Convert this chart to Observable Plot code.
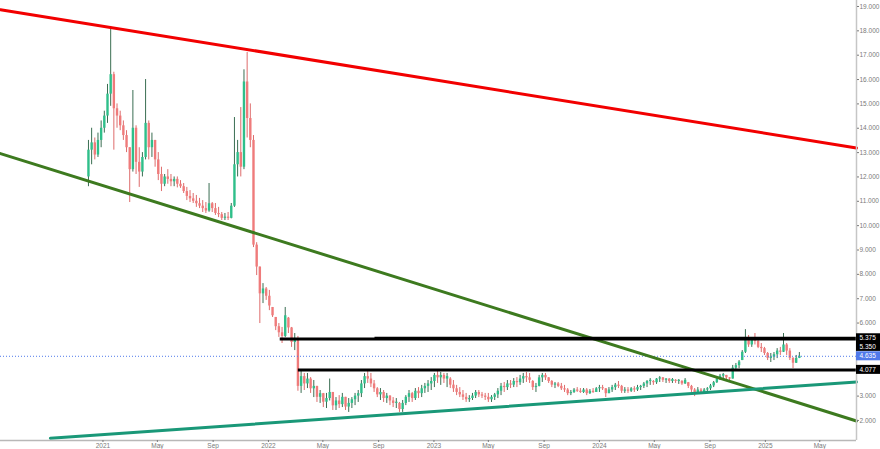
<!DOCTYPE html>
<html>
<head>
<meta charset="utf-8">
<script src="https://cdn.jsdelivr.net/npm/d3@7"></script>
<script src="https://cdn.jsdelivr.net/npm/@observablehq/plot@0.6"></script>
<style>
  html, body { margin: 0; padding: 0; background: #fff; }
  svg { display: block; }
</style>
</head>
<body>
<script>
// ---- weekly OHLC (first week starts 2020-11-30) ----
const openV = [
  12.0,13.1,13.4,12.9,13.5,14.0,14.5,15.4,16.2,14.8,
  14.5,14.1,13.7,13.2,12.3,14.0,12.6,12.2,12.8,14.2,
  13.2,13.5,12.7,12.1,11.7,12.0,11.9,11.8,11.9,11.7,
  11.6,11.4,11.2,11.1,11.0,10.9,10.8,10.7,10.6,10.9,
  10.7,10.5,10.45,10.3,10.35,10.3,10.8,12.5,13.0,12.4,
  15.9,14.4,13.5,9.2,8.3,7.2,7.4,7.1,6.64,6.23,
  5.85,5.6,5.45,6.2,5.8,5.2,5.35,3.4,3.8,3.5,
  3.7,3.3,3.4,2.95,3.1,2.75,2.9,3.15,2.6,2.8,
  2.65,2.95,2.55,2.7,2.85,3.0,3.1,3.5,3.8,3.7,
  3.5,3.3,3.05,3.15,2.9,3.0,2.8,2.7,2.7,2.45,
  2.7,2.95,3.1,2.9,3.2,3.1,3.3,3.4,3.5,3.6,
  3.85,3.75,3.85,3.7,3.7,3.45,3.3,3.15,3.05,2.95,
  2.85,2.9,3.0,3.15,3.05,3.0,2.95,2.85,2.95,3.05,
  3.2,3.4,3.35,3.5,3.45,3.6,3.55,3.7,3.8,3.75,
  3.6,3.35,3.4,3.75,3.85,3.75,3.6,3.45,3.5,3.4,
  3.3,3.25,3.1,3.15,3.25,3.2,3.15,3.25,3.1,3.2,
  3.15,3.3,3.35,3.3,3.1,3.25,3.35,3.45,3.4,3.2,
  3.25,3.2,3.3,3.25,3.35,3.4,3.5,3.6,3.6,3.55,
  3.7,3.75,3.65,3.7,3.6,3.65,3.6,3.6,3.5,3.55,
  3.4,3.25,3.1,3.25,3.15,3.25,3.3,3.42,3.55,3.7,
  3.82,3.85,3.75,3.7,4.15,4.25,4.46,4.8,5.4,5.1,
  5.3,5.25,5.0,4.95,4.75,4.55,4.6,4.7,4.85,4.8,
  5.1,4.85,4.55,4.35,4.55
];
const highV = [
  13.5,14.0,13.6,13.8,14.3,14.7,15.8,18.18,16.3,15.0,
  14.7,14.3,13.9,13.2,15.55,14.1,13.2,13.0,16.0,14.3,
  13.8,13.5,13.0,12.4,12.1,12.3,12.1,12.0,12.0,11.85,
  11.73,11.57,11.44,11.32,11.24,11.12,11.03,10.95,11.73,10.95,
  10.91,10.75,10.54,10.5,10.54,10.91,14.44,13.5,14.85,16.4,
  17.11,15.0,13.7,9.3,8.3,7.62,7.46,7.34,6.64,6.23,
  5.98,5.82,6.64,6.23,5.82,5.57,5.45,4.09,3.93,3.93,
  3.76,3.64,3.4,3.23,3.11,3.11,3.7,3.15,2.94,3.02,
  3.11,2.95,2.9,2.94,3.11,3.23,3.64,3.93,4.07,3.93,
  3.64,3.35,3.31,3.23,3.11,3.02,2.94,2.9,2.74,2.82,
  3.02,3.23,3.15,3.31,3.35,3.44,3.52,3.64,3.76,3.93,
  4.05,3.97,3.93,3.93,3.76,3.64,3.44,3.35,3.23,3.11,
  3.02,3.11,3.23,3.23,3.15,3.11,3.11,3.02,3.11,3.31,
  3.52,3.56,3.64,3.64,3.72,3.76,3.85,3.93,3.97,3.93,
  3.64,3.52,3.85,3.93,3.93,3.76,3.64,3.56,3.56,3.52,
  3.44,3.31,3.23,3.31,3.35,3.31,3.31,3.31,3.27,3.31,
  3.35,3.44,3.44,3.31,3.35,3.44,3.52,3.6,3.44,3.35,
  3.35,3.35,3.39,3.44,3.44,3.56,3.64,3.72,3.64,3.72,
  3.8,3.76,3.72,3.72,3.72,3.68,3.68,3.64,3.72,3.56,
  3.44,3.31,3.35,3.31,3.31,3.35,3.48,3.6,3.76,3.89,
  3.93,3.85,3.76,4.26,4.34,4.46,4.87,5.73,5.49,5.37,
  5.57,5.28,5.16,5.0,4.79,4.75,4.79,4.95,5.0,5.57,
  5.16,4.95,4.58,4.67,4.79
];
const lowV = [
  11.6,12.5,12.7,12.8,13.2,13.8,14.2,14.9,13.1,14.0,
  13.9,13.5,13.0,10.95,12.2,12.1,11.57,12.0,12.7,12.7,
  12.8,12.4,11.85,11.4,11.6,11.7,11.6,11.6,11.55,11.53,
  11.32,11.03,10.95,10.91,10.75,10.7,10.54,10.5,10.55,10.54,
  10.42,10.33,10.21,10.21,10.21,10.28,10.75,12.0,12.0,12.3,
  13.6,13.2,9.1,7.95,5.98,6.8,6.93,6.51,6.23,5.69,
  5.41,5.16,5.4,5.57,5.0,4.87,3.2,3.11,3.23,3.31,
  3.11,2.94,2.74,2.7,2.53,2.49,2.8,2.41,2.41,2.49,
  2.53,2.41,2.33,2.49,2.61,2.74,2.94,3.31,3.52,3.35,
  3.15,2.94,2.82,2.74,2.7,2.61,2.53,2.49,2.33,2.33,
  2.61,2.74,2.74,2.82,2.9,2.94,3.11,3.15,3.23,3.35,
  3.52,3.44,3.52,3.35,3.31,3.15,3.02,2.94,2.82,2.74,
  2.74,2.82,2.9,2.94,2.9,2.82,2.74,2.74,2.82,2.9,
  3.02,3.15,3.23,3.31,3.35,3.35,3.44,3.52,3.56,3.52,
  3.23,3.15,3.38,3.56,3.64,3.52,3.35,3.31,3.35,3.23,
  3.15,3.02,3.02,3.11,3.15,3.11,3.11,3.02,3.07,3.11,
  3.15,3.15,3.23,2.94,3.1,3.15,3.23,3.31,3.11,3.11,
  3.11,3.15,3.15,3.19,3.23,3.31,3.35,3.44,3.44,3.48,
  3.56,3.56,3.52,3.52,3.52,3.52,3.48,3.44,3.48,3.31,
  3.15,2.98,3.1,3.11,3.15,3.15,3.23,3.35,3.52,3.64,
  3.72,3.64,3.6,3.7,4.05,4.13,4.46,4.75,5.0,5.0,
  5.1,4.95,4.79,4.67,4.46,4.38,4.46,4.54,4.67,4.79,
  4.67,4.46,4.13,4.34,4.54
];
const closeV = [
  13.1,13.4,12.9,13.5,14.0,14.5,15.4,16.2,14.8,14.5,
  14.1,13.7,13.2,12.3,14.0,12.6,12.2,12.8,14.2,13.2,
  13.5,12.7,12.1,11.7,12.0,11.9,11.8,11.9,11.7,11.6,
  11.4,11.2,11.1,11.0,10.9,10.8,10.7,10.6,10.9,10.7,
  10.5,10.45,10.3,10.35,10.3,10.8,12.5,13.0,12.4,15.9,
  14.4,13.5,9.2,8.3,7.2,7.4,7.1,6.7,6.3,5.85,
  5.6,5.45,6.3,5.8,5.2,5.35,3.4,3.8,3.5,3.7,
  3.3,3.4,2.95,3.1,2.75,2.9,3.15,2.6,2.8,2.65,
  2.95,2.55,2.7,2.85,3.0,3.1,3.5,3.8,3.7,3.5,
  3.3,3.05,3.15,2.9,3.0,2.8,2.7,2.75,2.45,2.7,
  2.95,3.1,2.9,3.2,3.1,3.3,3.4,3.5,3.6,3.85,
  3.75,3.85,3.7,3.8,3.45,3.3,3.15,3.05,2.95,2.85,
  2.9,3.0,3.15,3.05,3.0,2.95,2.85,2.95,3.05,3.2,
  3.4,3.35,3.5,3.45,3.6,3.55,3.7,3.8,3.75,3.65,
  3.35,3.4,3.75,3.85,3.75,3.6,3.45,3.5,3.4,3.3,
  3.25,3.1,3.15,3.25,3.2,3.15,3.25,3.1,3.2,3.15,
  3.3,3.35,3.3,3.1,3.25,3.35,3.45,3.4,3.2,3.25,
  3.2,3.3,3.25,3.35,3.4,3.5,3.6,3.65,3.55,3.7,
  3.75,3.65,3.7,3.6,3.68,3.6,3.65,3.5,3.65,3.4,
  3.25,3.1,3.25,3.15,3.25,3.3,3.42,3.55,3.7,3.82,
  3.88,3.75,3.7,4.15,4.25,4.4,4.8,5.4,5.1,5.3,
  5.25,5.0,4.95,4.75,4.55,4.6,4.7,4.85,4.8,5.1,
  4.85,4.55,4.35,4.55,4.635
];

// ---- trend lines (anchor points: date, value) ----
const redLineDates = ["2020-05-20", "2025-07-21"];
const redLineValues = [18.87, 13.19];
const greenLineDates = ["2020-05-20", "2025-07-21"];
const greenLineValues = [12.96, 1.98];
const tealLineDates = ["2020-09-07", "2025-07-21"];
const tealLineValues = [1.27, 3.58];

// ---- horizontal levels ----
const levelValues = [5.375, 5.350, 4.077];
const levelStartDates = ["2022-08-24", "2022-01-27", "2022-03-08"];
const lastPrice = 4.635;
const priceLabelValues = [5.375, 5.350, 4.635, 4.077];

// ---- axes ----
const yTickValues = [2, 3, 6, 7, 8, 9, 10, 11, 12, 13, 14, 15, 16, 17, 18, 19];
const xTickDates = ["2021-01-01","2021-05-01","2021-09-01","2022-01-01","2022-05-01","2022-09-01",
  "2023-01-01","2023-05-01","2023-09-01","2024-01-01","2024-05-01","2024-09-01","2025-01-01","2025-05-01"];
const xDomain = ["2020-05-20", "2025-07-21"];
const yDomain = [1.177, 19.246];

// ---------------------------------------------------------------
const parse = s => new Date(s + "T00:00:00Z");
const xStart = parse(xDomain[0]), xEnd = parse(xDomain[1]);
const weekStarts = d3.utcMonday.range(parse("2020-11-30"), parse("2025-03-18"));
const candles = openV.map((o, i) => ({
  date: weekStarts[i], open: o, high: highV[i], low: lowV[i], close: closeV[i]
}));
const mkLine = (dates, vals) => dates.map((d, i) => ({date: parse(d), v: vals[i]}));
const redLine = mkLine(redLineDates, redLineValues);
const greenLine = mkLine(greenLineDates, greenLineValues);
const tealLine = mkLine(tealLineDates, tealLineValues);
const levels = levelValues.map((v, i) => ({v, start: parse(levelStartDates[i])}));

const upBody = "#2fbf8a", downBody = "#ef7b7b";
const upWick = "#3a6e52", downWick = "#de6c6c";
const blue = "#5079ea";

const labels = priceLabelValues.map(v => ({v, fill: v === lastPrice ? blue : "#000"}));
const labelsMain = labels.filter((d, i) => i !== 1);
const labelsShifted = labels.filter((d, i) => i === 1);

const labelMarks = (data, dy) => [
  Plot.rect(data, {x1: () => xEnd, x2: () => xEnd, y1: "v", y2: "v",
    insetRight: -24, insetTop: -4.5, insetBottom: -4.5, fill: "fill", dy}),
  Plot.text(data, {x: () => xEnd, y: "v", text: d => d.v.toFixed(3), textAnchor: "start",
    dx: 3, dy, fill: "white", fontSize: 6.5})
];

const plot = Plot.plot({
  width: 880, height: 449,
  marginLeft: 0, marginRight: 24, marginTop: 0, marginBottom: 9,
  style: {background: "#fff", fontFamily: "'Liberation Sans', Arial, sans-serif", fontSize: "6.5px", color: "#777", overflow: "visible"},
  x: {type: "utc", domain: [xStart, xEnd]},
  y: {domain: yDomain},
  marks: [
    // candles
    Plot.ruleX(candles, {x: "date", y1: "low", y2: "high",
      stroke: d => d.close >= d.open ? upWick : downWick, strokeWidth: 1}),
    Plot.ruleX(candles, {x: "date", y1: "open", y2: "close",
      stroke: d => d.close >= d.open ? upBody : downBody, strokeWidth: 2.4}),
    // last price dotted line
    Plot.ruleY([lastPrice], {stroke: blue, strokeWidth: 1, strokeDasharray: "1,2"}),
    // trend lines
    Plot.line(redLine, {x: "date", y: "v", stroke: "#f20000", strokeWidth: 3}),
    Plot.line(greenLine, {x: "date", y: "v", stroke: "#3d7a1f", strokeWidth: 3}),
    Plot.line(tealLine, {x: "date", y: "v", stroke: "#1a9878", strokeWidth: 3}),
    // horizontal levels
    Plot.ruleY(levels, {y: "v", x1: "start", x2: () => xEnd, stroke: "#000", strokeWidth: 3}),
    // axes
    Plot.ruleX([xEnd], {stroke: "#c6c6c6", strokeWidth: 1.5}),
    Plot.ruleY([yDomain[0]], {stroke: "#b8b8b8", strokeWidth: 1.5}),
    Plot.axisY({anchor: "right", ticks: yTickValues, tickFormat: d => d.toFixed(3),
      tickSize: 2, tickPadding: 1, fontSize: 6.5, label: null, color: "#7a7a7a"}),
    Plot.axisX({ticks: xTickDates.map(parse),
      tickFormat: d => d.getUTCMonth() === 0 ? String(d.getUTCFullYear()) : d3.utcFormat("%b")(d),
      tickSize: 2, tickPadding: 1, fontSize: 6.5, label: null, color: "#7a7a7a"}),
    ...labelMarks(labelsMain, 0),
    ...labelMarks(labelsShifted, 8)
  ]
});
document.body.appendChild(plot);
</script>
</body>
</html>
